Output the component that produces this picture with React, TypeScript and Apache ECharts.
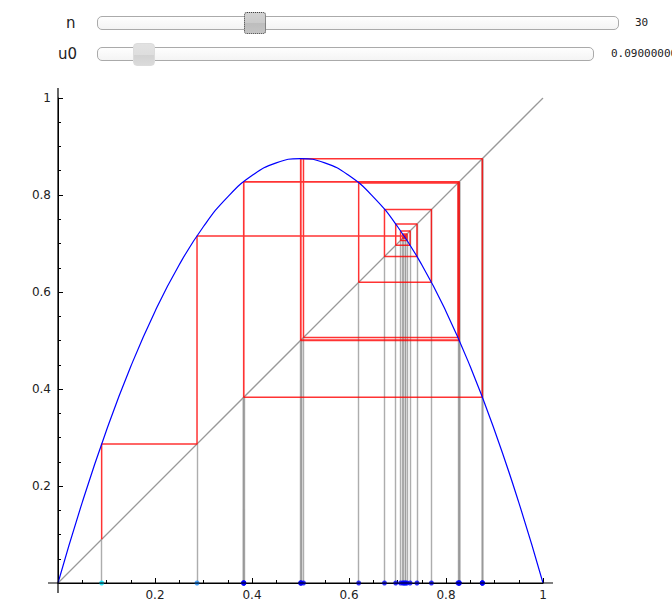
import React, { useEffect, useRef } from "react";
import * as echarts from "echarts";

// Iterates u0..u30 of the cobweb
const ITERATES = [
  0.09, 0.28665, 0.715322, 0.712728, 0.716614, 0.710774, 0.71951, 0.706353,
  0.725961, 0.696288, 0.74013, 0.673143, 0.769946, 0.619953, 0.824639,
  0.506135, 0.874868, 0.383159, 0.827219, 0.500247, 0.875, 0.382813,
  0.826935, 0.500897, 0.874997, 0.382822, 0.826941, 0.500884, 0.874997,
  0.382822, 0.826941,
];

// Parabola samples (blue curve)
const CURVE_X = [
  0, 0.05, 0.1, 0.15, 0.2, 0.25, 0.3, 0.35, 0.4, 0.45, 0.5, 0.55, 0.6, 0.65,
  0.7, 0.75, 0.8, 0.85, 0.9, 0.95, 1,
];
const CURVE_Y = [
  0, 0.16625, 0.315, 0.44625, 0.56, 0.65625, 0.735, 0.79625, 0.84, 0.86625,
  0.875, 0.86625, 0.84, 0.79625, 0.735, 0.65625, 0.56, 0.44625, 0.315,
  0.16625, 0,
];

// Diagonal y = x
const DIAGONAL = [
  [0, 0],
  [1, 1],
];

// Slider readouts
const N_VALUE = "30";
const U0_VALUE = "0.0900000000000000";

// Dot colours by iterate index
const DOT_COLORS = ["#00e5ff", "#1e8fff", "#0050ff"];
const DOT_DEFAULT = "#0000ff";

const FONT = "'DejaVu Sans', sans-serif";

export default function App() {
  const ref = useRef<HTMLDivElement>(null);

  useEffect(() => {
    if (!ref.current) return;
    const chart = echarts.init(ref.current, undefined, { renderer: "svg" });

    const cobweb: number[][] = [];
    for (let k = 0; k < ITERATES.length - 1; k++) {
      const a = ITERATES[k];
      const b = ITERATES[k + 1];
      if (k === 0) cobweb.push([a, a]);
      cobweb.push([a, b]);
      cobweb.push([b, b]);
    }

    const verticals = ITERATES.map((u) => ({
      coords: [
        [u, 0],
        [u, u],
      ],
    }));

    const dots = ITERATES.map((u, i) => ({
      value: [u, 0],
      itemStyle: { color: DOT_COLORS[i] || DOT_DEFAULT },
    }));

    const axisCommon = {
      type: "value" as const,
      min: 0,
      max: 1,
      interval: 0.2,
      splitLine: { show: false },
      axisLine: { show: true, lineStyle: { color: "#000", width: 1 } },
      axisTick: {
        show: true,
        inside: true,
        length: 5,
        lineStyle: { color: "#000", width: 1 },
      },
      minorTick: {
        show: true,
        splitNumber: 4,
        length: 3,
        lineStyle: { color: "#000", width: 1 },
      },
      axisLabel: {
        color: "#222",
        fontSize: 12,
        fontFamily: FONT,
        formatter: (v: number) => (v === 0 ? "" : String(v)),
      },
    };

    chart.setOption({
      animation: false,
      grid: { left: 58, top: 98, width: 485, height: 485 },
      xAxis: {
        ...axisCommon,
        axisLabel: { ...axisCommon.axisLabel, margin: 6 },
      },
      yAxis: {
        ...axisCommon,
        axisLabel: { ...axisCommon.axisLabel, margin: 7 },
      },
      series: [
        {
          type: "line",
          data: DIAGONAL,
          showSymbol: false,
          lineStyle: { color: "#999", width: 1.3 },
          silent: true,
          z: 1,
        },
        {
          type: "lines",
          coordinateSystem: "cartesian2d",
          data: verticals,
          lineStyle: { color: "#999", width: 1.4, opacity: 0.8 },
          silent: true,
          z: 2,
        },
        {
          type: "line",
          data: cobweb,
          showSymbol: false,
          lineStyle: { color: "#ff0000", width: 1.5, opacity: 0.8 },
          silent: true,
          z: 3,
        },
        {
          type: "line",
          data: CURVE_X.map((x, i) => [x, CURVE_Y[i]]),
          smooth: true,
          showSymbol: false,
          lineStyle: { color: "#0000ff", width: 1.2 },
          silent: true,
          z: 4,
        },
        {
          type: "scatter",
          data: dots,
          symbolSize: 5,
          silent: true,
          z: 5,
        },
      ],
    });

    const p00 = chart.convertToPixel({ gridIndex: 0 }, [0, 0]) as number[];
    const p11 = chart.convertToPixel({ gridIndex: 0 }, [1, 1]) as number[];
    chart.setOption({
      graphic: [
        {
          type: "line",
          shape: { x1: p00[0] - 10, y1: p00[1], x2: p11[0] + 10, y2: p00[1] },
          style: { stroke: "#000", lineWidth: 1.2 },
          z: 10,
        },
        {
          type: "line",
          shape: { x1: p00[0], y1: p00[1] + 10, x2: p00[0], y2: p11[1] - 10 },
          style: { stroke: "#000", lineWidth: 1.2 },
          z: 10,
        },
      ],
    });

    return () => chart.dispose();
  }, []);

  const labelStyle: React.CSSProperties = {
    position: "absolute",
    fontFamily: FONT,
    fontSize: 15,
    color: "#222",
    lineHeight: "20px",
  };
  const valueStyle: React.CSSProperties = {
    position: "absolute",
    fontFamily: "'DejaVu Sans Mono', monospace",
    fontSize: 11,
    color: "#222",
    lineHeight: "14px",
    whiteSpace: "nowrap",
  };
  const track: React.CSSProperties = {
    position: "absolute",
    height: 12,
    border: "1px solid #aaa",
    borderRadius: 5,
    background: "linear-gradient(#fefefe, #f4f4f4)",
    boxSizing: "content-box",
  };

  return (
    <div
      style={{
        position: "fixed",
        left: 0,
        top: 0,
        width: 672,
        height: 613,
        overflow: "hidden",
        background: "#fff",
      }}
    >
      <div ref={ref} style={{ position: "absolute", left: 0, top: 0, width: 672, height: 613 }} />
      <div style={{ position: "absolute", left: 0, top: 0, width: 672, height: 80 }}>
        <div style={{ ...labelStyle, left: 66, top: 13 }}>n</div>
        <div style={{ ...track, left: 97, top: 16, width: 520 }} />
        <div
          style={{
            position: "absolute",
            left: 244,
            top: 12,
            width: 20,
            height: 20,
            borderRadius: 3,
            border: "1px dotted #444",
            background: "linear-gradient(#d2d2d2 0%, #cacaca 50%, #bdbdbd 51%, #c4c4c4 100%)",
          }}
        />
        <div style={{ ...valueStyle, left: 635, top: 16 }}>{N_VALUE}</div>

        <div style={{ ...labelStyle, left: 58, top: 44 }}>u0</div>
        <div style={{ ...track, left: 97, top: 47, width: 495 }} />
        <div
          style={{
            position: "absolute",
            left: 133,
            top: 43,
            width: 20,
            height: 21,
            borderRadius: 4,
            border: "1px solid #dcdcdc",
            background: "linear-gradient(#e2e2e2 0%, #dedede 50%, #d2d2d2 51%, #dadada 100%)",
          }}
        />
        <div style={{ ...valueStyle, left: 611, top: 47 }}>{U0_VALUE}</div>
      </div>
    </div>
  );
}
